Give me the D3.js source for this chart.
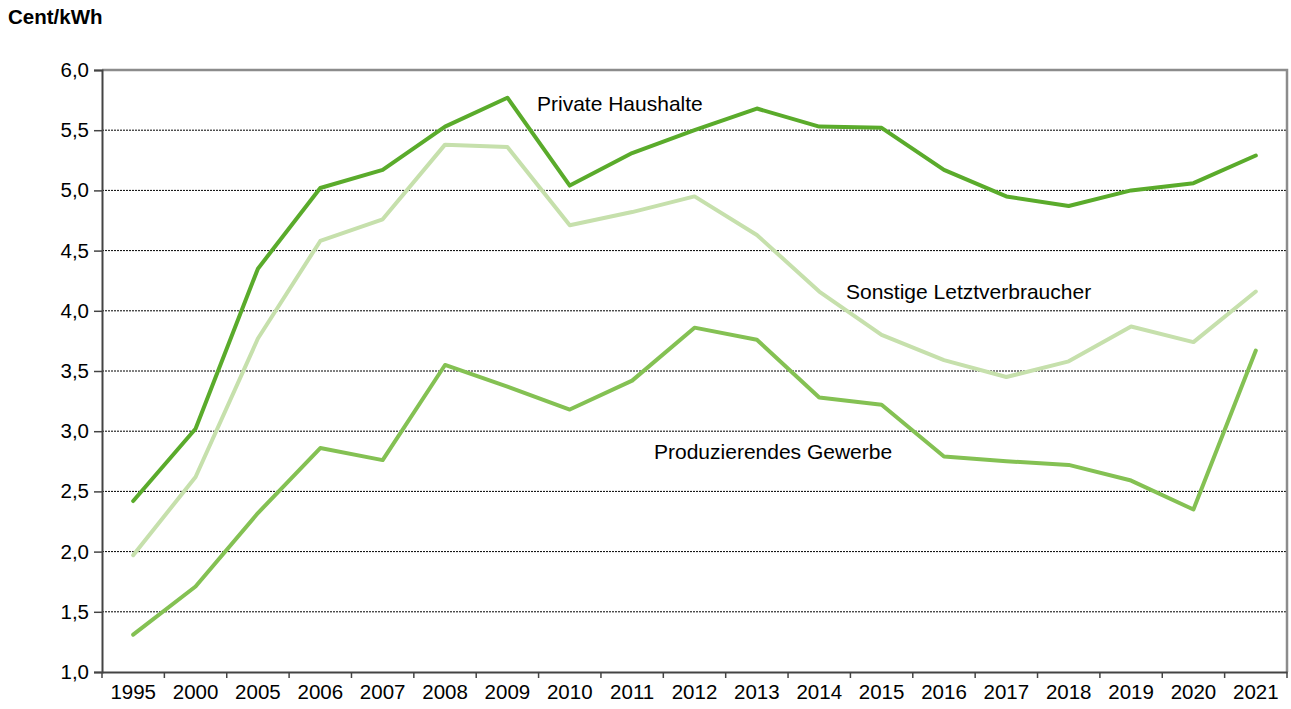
<!DOCTYPE html>
<html>
<head>
<meta charset="utf-8">
<script src="https://cdn.jsdelivr.net/npm/d3@7"></script>
<style>
  body { margin: 0; background: #fff; }
  svg { font-family: "Liberation Sans", Arial, sans-serif; }
</style>
</head>
<body>
<div class="chart"></div>
<script>
var years = ["1995", "2000", "2005", "2006", "2007", "2008", "2009", "2010", "2011", "2012",
             "2013", "2014", "2015", "2016", "2017", "2018", "2019", "2020", "2021"];

var privateHaushalte = [2.42, 3.02, 4.35, 5.02, 5.17, 5.53, 5.77, 5.04, 5.31, 5.50,
                        5.68, 5.53, 5.52, 5.17, 4.95, 4.87, 5.00, 5.06, 5.29];

var sonstige = [1.97, 2.62, 3.77, 4.58, 4.76, 5.38, 5.36, 4.71, 4.82, 4.95,
                4.63, 4.16, 3.80, 3.59, 3.45, 3.58, 3.87, 3.74, 4.16];

var gewerbe = [1.31, 1.71, 2.32, 2.86, 2.76, 3.55, 3.37, 3.18, 3.42, 3.86,
               3.76, 3.28, 3.22, 2.79, 2.75, 2.72, 2.59, 2.35, 3.67];

var yTicks = [1.0, 1.5, 2.0, 2.5, 3.0, 3.5, 4.0, 4.5, 5.0, 5.5, 6.0];

var width = 1291, height = 709;
var plotLeft = 102, plotRight = 1287, plotTop = 70, plotBottom = 672;

var svg = d3.select(".chart")
            .append("svg")
            .attr("width", width)
            .attr("height", height);

var x = d3.scaleBand().domain(years).range([plotLeft, plotRight]);
var y = d3.scaleLinear().domain([1, 6]).range([plotBottom, plotTop]);

// gridlines
svg.selectAll(".grid")
    .data(yTicks.filter(function(d) { return d > 1 && d < 6; }))
  .enter()
    .append("line")
    .attr("x1", plotLeft)
    .attr("x2", plotRight)
    .attr("y1", function(d) { return y(d); })
    .attr("y2", function(d) { return y(d); })
    .style("stroke", "#000")
    .style("stroke-width", 1)
    .style("stroke-dasharray", "2,1");

// frame top/right
svg.append("path")
    .attr("d", "M" + plotLeft + "," + plotTop + "H" + plotRight + "V" + plotBottom)
    .style("fill", "none")
    .style("stroke", "#8c8c8c")
    .style("stroke-width", 2.5);

// y axis
var yAxis = svg.append("g")
    .attr("transform", "translate(" + plotLeft + ",0)")
    .call(d3.axisLeft(y).tickValues(yTicks).tickSize(8).tickPadding(5)
          .tickFormat(function(d) { return d3.format(".1f")(d).replace(".", ","); }));
yAxis.select(".domain").style("stroke", "#444").style("stroke-width", 2);
yAxis.selectAll(".tick line").style("stroke", "#444").style("stroke-width", 1.5);
yAxis.selectAll("text").style("font-size", "20.5px").style("fill", "#000");

// x axis
var xAxis = svg.append("g")
    .attr("transform", "translate(0," + plotBottom + ")")
    .call(d3.axisBottom(x).tickSize(0).tickPadding(12));
xAxis.select(".domain").style("stroke", "#444").style("stroke-width", 2);
xAxis.selectAll("text").style("font-size", "20.5px").style("fill", "#000");

// x ticks at band boundaries
var bounds = years.map(function(d) { return x(d); }).concat([plotRight]);
svg.selectAll(".xtick")
    .data(bounds)
  .enter()
    .append("line")
    .attr("x1", function(d) { return d; })
    .attr("x2", function(d) { return d; })
    .attr("y1", plotBottom)
    .attr("y2", plotBottom + 6)
    .style("stroke", "#444")
    .style("stroke-width", 1.5);

var line = d3.line()
    .x(function(d, i) { return x(years[i]) + x.bandwidth() / 2; })
    .y(function(d) { return y(d); });

var series = [
    { values: sonstige, color: "#c6e0ac" },
    { values: gewerbe, color: "#84c153" },
    { values: privateHaushalte, color: "#5aab2b" }
];

svg.selectAll(".series")
    .data(series)
  .enter()
    .append("path")
    .attr("d", function(d) { return line(d.values); })
    .style("fill", "none")
    .style("stroke", function(d) { return d.color; })
    .style("stroke-width", 4)
    .style("stroke-linejoin", "round")
    .style("stroke-linecap", "round");

// labels
var labels = [
    { text: "Private Haushalte", x: 537, y: 111 },
    { text: "Sonstige Letztverbraucher", x: 846, y: 299 },
    { text: "Produzierendes Gewerbe", x: 654, y: 459 }
];
svg.selectAll(".label")
    .data(labels)
  .enter()
    .append("text")
    .attr("x", function(d) { return d.x; })
    .attr("y", function(d) { return d.y; })
    .text(function(d) { return d.text; })
    .style("font-size", "21px")
    .style("fill", "#000");

svg.append("text")
    .attr("x", 8)
    .attr("y", 24)
    .text("Cent/kWh")
    .style("font-size", "20.5px")
    .style("font-weight", "bold");
</script>
</body>
</html>
